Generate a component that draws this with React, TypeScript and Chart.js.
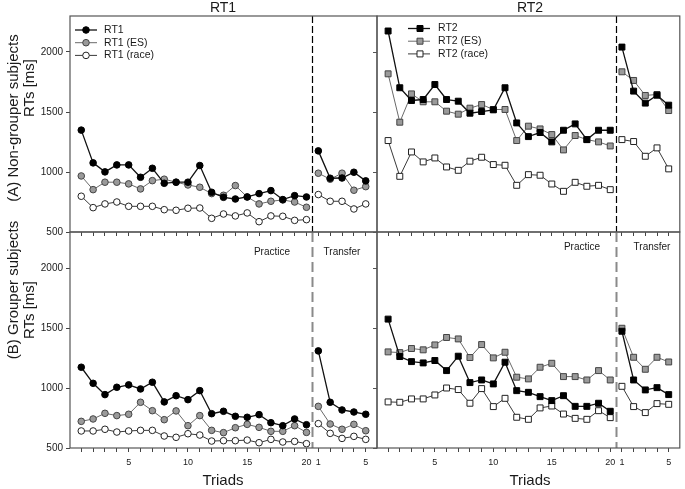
import React, { useEffect, useRef } from 'react';
import { Chart, registerables } from 'chart.js';

Chart.register(...registerables);

const FONT = "'Liberation Sans', Arial, Helvetica, sans-serif";

// ---------- data ----------
const PRACTICE_N = 20; // triads 1..20 (practice), followed by 5 transfer triads
const xTickLabels = ['', '', '', '', '5', '', '', '', '', '10', '', '', '', '', '15', '', '', '', '', '20', '1', '', '', '', '5'];
const yTickValues = [500, 1000, 1500, 2000];

// (A) Non-grouper subjects
const ngRT1 = [1349, 1076, 1001, 1059, 1059, 956, 1031, 906, 915, 915, 1054, 831, 789, 775, 792, 820, 845, 770, 803, 792, 1176, 948, 950, 998, 926];
const ngRT1ES = [967, 853, 915, 915, 901, 859, 928, 940, 915, 892, 873, 820, 806, 887, 792, 734, 756, 767, 750, 706, 990, 940, 990, 848, 878];
const ngRT1Race = [798, 703, 734, 750, 714, 714, 714, 686, 681, 698, 700, 614, 650, 634, 659, 586, 634, 631, 597, 603, 812, 756, 756, 692, 734];

const ngRT2 = [2175, 1702, 1596, 1604, 1729, 1604, 1590, 1490, 1504, 1518, 1702, 1409, 1295, 1329, 1251, 1348, 1401, 1270, 1348, 1348, 2041, 1674, 1574, 1640, 1557];
const ngRT2ES = [1818, 1415, 1651, 1585, 1585, 1507, 1482, 1532, 1562, 1521, 1521, 1262, 1382, 1359, 1312, 1184, 1304, 1270, 1251, 1217, 1835, 1763, 1638, 1646, 1512];
const ngRT2Race = [1262, 964, 1167, 1084, 1117, 1042, 1014, 1090, 1123, 1062, 1056, 889, 978, 973, 900, 839, 914, 881, 889, 853, 1270, 1254, 1131, 1201, 1026];

// (B) Grouper subjects
const gRT1 = [1173, 1039, 945, 1006, 1026, 992, 1048, 884, 936, 903, 978, 786, 806, 764, 756, 778, 711, 686, 742, 694, 1309, 881, 817, 800, 781];
const gRT1ES = [722, 742, 789, 770, 781, 881, 811, 736, 809, 686, 770, 647, 628, 669, 697, 672, 639, 639, 686, 630, 847, 700, 656, 697, 644];
const gRT1Race = [642, 642, 656, 633, 642, 647, 647, 600, 589, 619, 608, 558, 561, 561, 566, 544, 572, 550, 555, 536, 703, 622, 580, 597, 572];

const gRT2 = [1574, 1262, 1220, 1209, 1229, 1145, 1265, 1045, 1067, 1034, 1215, 978, 964, 928, 895, 936, 847, 847, 873, 806, 1473, 1067, 984, 1003, 945];
const gRT2ES = [1301, 1295, 1329, 1318, 1359, 1421, 1409, 1254, 1362, 1251, 1298, 1090, 1076, 1173, 1206, 1095, 1095, 1067, 1145, 1067, 1498, 1256, 1156, 1256, 1217];
const gRT2Race = [884, 881, 909, 909, 942, 1000, 987, 873, 995, 845, 914, 756, 739, 834, 850, 783, 747, 739, 811, 753, 1014, 845, 795, 870, 864];

const rt1Names = ['RT1', 'RT1 (ES)', 'RT1 (race)'];
const rt2Names = ['RT2', 'RT2 (ES)', 'RT2 (race)'];

// ---------- styles ----------
const PAGE_W = 685;
const PAGE_H = 489;
const COL_X = [70, 377, 684];
const ROW_Y = [16, 232, 448];
const Y_AXIS_W = 30;

const seriesStyles = [
  { line: '#111', fill: '#000', stroke: '#000', width: 1.3 },
  { line: '#6a6a6a', fill: '#9a9a9a', stroke: '#444', width: 1 },
  { line: '#3a3a3a', fill: '#fff', stroke: '#222', width: 1 },
];

type PanelCfg = {
  col: number;
  row: number;
  names: string[];
  values: number[][];
  shape: 'circle' | 'rect';
  legend?: { x0: number; x1: number; xm: number; xt: number; y0: number; dy: number };
  phase?: { practiceX: number; transferX: number; y: number };
  extras?: (ctx: CanvasRenderingContext2D) => void;
};

function drawMarker(ctx: CanvasRenderingContext2D, shape: string, x: number, y: number, st: any) {
  ctx.save();
  ctx.fillStyle = st.fill;
  ctx.strokeStyle = st.stroke;
  ctx.lineWidth = 1;
  ctx.beginPath();
  if (shape === 'circle') ctx.arc(x, y, 3.3, 0, Math.PI * 2);
  else ctx.rect(x - 3, y - 3, 6, 6);
  ctx.fill();
  ctx.stroke();
  ctx.restore();
}

function txt(ctx: CanvasRenderingContext2D, s: string, x: number, y: number, size: number, rot = false, align: CanvasTextAlign = 'center') {
  ctx.save();
  ctx.fillStyle = '#1a1a1a';
  ctx.font = `${size}px ${FONT}`;
  ctx.textAlign = align;
  ctx.textBaseline = 'middle';
  ctx.translate(x, y);
  if (rot) ctx.rotate(-Math.PI / 2);
  ctx.fillText(s, 0, 0);
  ctx.restore();
}

const globalTexts = (ctx: CanvasRenderingContext2D) => {
  txt(ctx, 'RT1', 223, 8, 14);
  txt(ctx, 'RT2', 530, 8, 14);
  txt(ctx, 'Triads', 223, 481, 15);
  txt(ctx, 'Triads', 530, 481, 15);
  txt(ctx, '(A) Non-grouper subjects', 14, 118, 15, true);
  txt(ctx, 'RTs [ms]', 30, 88, 15, true);
  txt(ctx, '(B) Grouper subjects', 14, 290, 15, true);
  txt(ctx, 'RTs [ms]', 30, 310, 15, true);
};

const panels: PanelCfg[] = [
  {
    col: 0, row: 0, names: rt1Names, values: [ngRT1, ngRT1ES, ngRT1Race], shape: 'circle',
    legend: { x0: 75, x1: 97, xm: 86, xt: 104, y0: 30, dy: 12.7 },
    extras: globalTexts,
  },
  {
    col: 1, row: 0, names: rt2Names, values: [ngRT2, ngRT2ES, ngRT2Race], shape: 'rect',
    legend: { x0: 408, x1: 430, xm: 420, xt: 438, y0: 28.5, dy: 12.7 },
  },
  {
    col: 0, row: 1, names: rt1Names, values: [gRT1, gRT1ES, gRT1Race], shape: 'circle',
    phase: { practiceX: 272, transferX: 342, y: 252 },
  },
  {
    col: 1, row: 1, names: rt2Names, values: [gRT2, gRT2ES, gRT2Race], shape: 'rect',
    phase: { practiceX: 582, transferX: 652, y: 247 },
  },
];

function buildConfig(p: PanelCfg): any {
  const L = COL_X[p.col], R = COL_X[p.col + 1];
  const T = ROW_Y[p.row], B = ROW_Y[p.row + 1];
  const isLeft = p.col === 0;
  const isBottom = p.row === 1;
  const xAxisH = isBottom ? 22 : 4;
  const yAxisW = isLeft ? Y_AXIS_W : 0;

  const datasets: any[] = [];
  p.values.forEach((vals, si) => {
    const st = seriesStyles[si];
    const common = {
      label: p.names[si],
      borderColor: st.line,
      borderWidth: st.width,
      pointBackgroundColor: st.fill,
      pointBorderColor: st.stroke,
      pointBorderWidth: 1,
      pointStyle: p.shape,
      pointRadius: p.shape === 'circle' ? 3.3 : 4.2,
      tension: 0,
      fill: false,
    };
    datasets.push({ ...common, data: vals.slice(0, PRACTICE_N).map((v, i) => ({ x: i, y: v })) });
    datasets.push({ ...common, data: vals.slice(PRACTICE_N).map((v, i) => ({ x: PRACTICE_N + i, y: v })) });
  });

  const panelPlugin = {
    id: 'panelDeco' + p.col + p.row,
    beforeDatasetsDraw(chart: any) {
      const ctx = chart.ctx as CanvasRenderingContext2D;
      const a = chart.chartArea;
      const xs = chart.scales.x;
      const sepX = Math.round(xs.getPixelForValue(PRACTICE_N - 0.5)) + 0.5;
      ctx.save();
      ctx.beginPath();
      if (isBottom) {
        ctx.strokeStyle = '#8a8a8a';
        ctx.lineWidth = 2;
        ctx.setLineDash([10, 5]);
      } else {
        ctx.strokeStyle = '#000';
        ctx.lineWidth = 1.2;
        ctx.setLineDash([7, 3]);
      }
      ctx.moveTo(sepX, a.top);
      ctx.lineTo(sepX, a.bottom);
      ctx.stroke();
      ctx.restore();
    },
    afterDraw(chart: any) {
      const ctx = chart.ctx as CanvasRenderingContext2D;
      const a = chart.chartArea;
      const ys = chart.scales.y;
      ctx.save();
      ctx.strokeStyle = '#555';
      ctx.lineWidth = 1.2;
      ctx.strokeRect(a.left, a.top, a.right - a.left, a.bottom - a.top);
      if (isLeft) {
        ctx.beginPath();
        yTickValues.forEach((v) => {
          const y = Math.round(ys.getPixelForValue(v)) + 0.5;
          ctx.moveTo(a.right, y);
          ctx.lineTo(a.right - 4, y);
        });
        ctx.stroke();
      }
      ctx.restore();

      if (p.legend) {
        const lg = p.legend;
        p.names.forEach((name, si) => {
          const st = seriesStyles[si];
          const y = lg.y0 + si * lg.dy;
          ctx.save();
          ctx.strokeStyle = st.line;
          ctx.lineWidth = st.width;
          ctx.beginPath();
          ctx.moveTo(lg.x0, y);
          ctx.lineTo(lg.x1, y);
          ctx.stroke();
          ctx.restore();
          drawMarker(ctx, p.shape, lg.xm, y, st);
          txt(ctx, name, lg.xt, y, 10.5, false, 'left');
        });
      }
      if (p.phase) {
        txt(ctx, 'Practice', p.phase.practiceX, p.phase.y, 10);
        txt(ctx, 'Transfer', p.phase.transferX, p.phase.y, 10);
      }
      if (p.extras) p.extras(ctx);
    },
  };

  return {
    type: 'line',
    data: { datasets },
    plugins: [panelPlugin],
    options: {
      animation: false,
      responsive: false,
      events: [],
      layout: {
        padding: {
          left: L - yAxisW,
          right: PAGE_W - R,
          top: T,
          bottom: PAGE_H - B - xAxisH,
        },
      },
      plugins: { legend: { display: false }, tooltip: { enabled: false }, title: { display: false } },
      scales: {
        x: {
          type: 'linear',
          min: -0.95,
          max: 24.95,
          afterBuildTicks: (s: any) => {
            s.ticks = xTickLabels.map((_, i) => ({ value: i }));
          },
          afterFit: (s: any) => {
            s.height = xAxisH;
          },
          ticks: {
            display: isBottom,
            autoSkip: false,
            maxRotation: 0,
            minRotation: 0,
            padding: 5,
            color: '#1a1a1a',
            font: { size: 9, family: FONT },
            callback: (_v: any, i: number) => xTickLabels[i] ?? '',
          },
          grid: { drawOnChartArea: false, drawTicks: true, tickLength: 4, color: '#444', lineWidth: 1 },
          border: { display: false },
        },
        y: {
          type: 'linear',
          display: isLeft,
          min: 500,
          max: 2300,
          afterBuildTicks: (s: any) => {
            s.ticks = yTickValues.map((v) => ({ value: v }));
          },
          afterFit: (s: any) => {
            s.width = yAxisW;
          },
          ticks: {
            padding: 3,
            color: '#1a1a1a',
            font: { size: 10, family: FONT },
            callback: (v: any) => String(v),
          },
          grid: { drawOnChartArea: false, drawTicks: true, tickLength: 4, color: '#444', lineWidth: 1 },
          border: { display: false },
        },
      },
    },
  };
}

function PanelChart({ cfg }: { cfg: PanelCfg }) {
  const ref = useRef<HTMLCanvasElement | null>(null);
  useEffect(() => {
    if (!ref.current) return;
    const chart = new Chart(ref.current, buildConfig(cfg));
    return () => chart.destroy();
  }, [cfg]);
  return (
    <canvas
      ref={ref}
      width={PAGE_W}
      height={PAGE_H}
      style={{ position: 'absolute', left: 0, top: 0, width: PAGE_W, height: PAGE_H, pointerEvents: 'none' }}
    />
  );
}

export default function App() {
  return (
    <div style={{ position: 'absolute', left: 0, top: 0, width: PAGE_W, height: PAGE_H, background: '#fff', overflow: 'hidden' }}>
      {panels.map((p, i) => (
        <PanelChart key={i} cfg={p} />
      ))}
    </div>
  );
}
